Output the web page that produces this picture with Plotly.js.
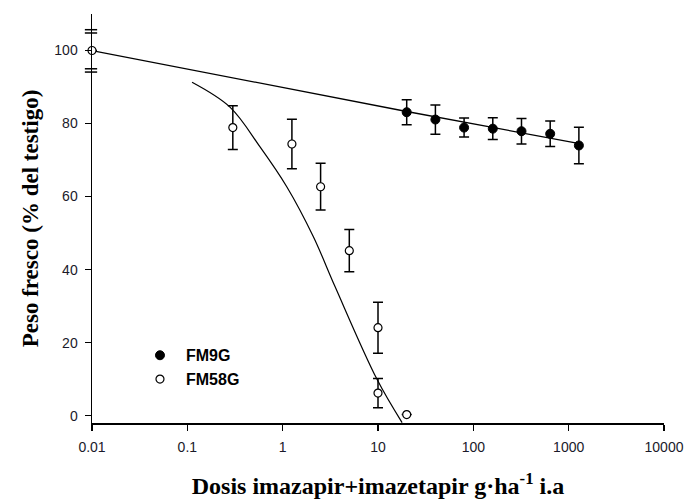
<!DOCTYPE html>
<html>
<head>
<meta charset="utf-8">
<script src="https://cdn.plot.ly/plotly-3.0.1.min.js"></script>
<style>html,body{margin:0;padding:0;background:#fff;}#chart{width:688px;height:502px;}</style>
</head>
<body>
<div id="chart"></div>
<script>
// ---- data ----
const fm9gName = "FM9G";
const fm9gX = [20, 40, 80, 160, 320, 640, 1280];
const fm9gY = [83.1, 81.1, 78.9, 78.6, 77.9, 77.2, 74.0];
const fm9gErr = [3.4, 4.0, 2.6, 3.0, 3.5, 3.5, 5.0];

const fm58gName = "FM58G";
const fm58gX = [0.01, 0.3, 1.25, 2.5, 5, 10, 10, 20];
const fm58gY = [100, 78.9, 74.4, 62.7, 45.2, 24.1, 6.2, 0.3];
const fm58gErr = [null, 6.0, 6.8, 6.4, 5.8, 7.0, 4.0, null];

// fitted curves
const fit9X = [0.01, 20, 1300];
const fit9Y = [100, 83.3, 74.5];
const fit58X = [0.112, 0.28, 0.579, 1.104, 2.10, 3.55, 9.70, 17.9];
const fit58Y = [91.3, 84.5, 73.6, 62.7, 49.0, 35.3, 10.1, -1.9];

const xTickVals = [0.01, 0.1, 1, 10, 100, 1000, 10000];
const xTickText = ["0.01", "0.1", "1", "10", "100", "1000", "10000"];
const yTickVals = [0, 20, 40, 60, 80, 100];
const yTickText = ["0", "20", "40", "60", "80", "100"];
const breakVals = [105.7, 104.8, 95.0, 94.1];

const xTitle = "Dosis imazapir+imazetapir g·ha<sup>-1</sup> i.a";
const yTitle = "Peso fresco (% del testigo)";

const traces = [
  {x: fit9X, y: fit9Y, mode: "lines", line: {color: "#000", width: 1.3}, showlegend: false, hoverinfo: "skip"},
  {x: fit58X, y: fit58Y, mode: "lines", line: {color: "#000", width: 1.2, shape: "spline", smoothing: 1.0}, showlegend: false, hoverinfo: "skip"},
  {x: fm9gX, y: fm9gY, name: fm9gName, mode: "markers",
   marker: {symbol: "circle", size: 9, color: "#000", line: {color: "#000", width: 1}},
   error_y: {type: "data", array: fm9gErr, visible: true, color: "#000", thickness: 1.5, width: 5},
   cliponaxis: false},
  {x: fm58gX, y: fm58gY, name: fm58gName, mode: "markers",
   marker: {symbol: "circle", size: 8, color: "#fff", line: {color: "#000", width: 1.2}},
   error_y: {type: "data", array: fm58gErr, visible: true, color: "#000", thickness: 1.5, width: 5},
   cliponaxis: false}
];

const shapes = breakVals.map(v => ({
  type: "line", xref: "paper", yref: "y", x0: -0.0125, x1: 0.009, y0: v, y1: v,
  line: {color: "#000", width: 1.5}
}));

const tickFont = {family: "Liberation Sans, Arial, sans-serif", size: 14, color: "#1a1a2a"};
const xTitleFont = {family: "Liberation Serif, Times New Roman, serif", size: 24, color: "#000", weight: "bold"};
const yTitleFont = {family: "Liberation Serif, Times New Roman, serif", size: 23, color: "#000", weight: "bold"};

const layout = {
  width: 688, height: 502,
  margin: {l: 92, r: 24, t: 14, b: 79, pad: 0},
  paper_bgcolor: "#fff", plot_bgcolor: "#fff",
  showlegend: true,
  legend: {x: 0.0734, y: 0.207, xanchor: "left", yanchor: "top", bgcolor: "rgba(0,0,0,0)",
    font: {family: "Liberation Sans, Arial, sans-serif", size: 16, color: "#000", weight: "bold"},
    tracegroupgap: 0, itemwidth: 42},
  xaxis: {type: "log", range: [-2, 4], autorange: false,
    tickmode: "array", tickvals: xTickVals, ticktext: xTickText,
    ticks: "outside", ticklen: 6, tickwidth: 1.5, tickcolor: "#000",
    showline: true, linecolor: "#000", linewidth: 1.5, mirror: false,
    showgrid: false, zeroline: false, tickfont: tickFont, ticklabelstandoff: 5,
    title: {text: xTitle, font: xTitleFont, standoff: 23}, automargin: false},
  yaxis: {range: [-2, 110], autorange: false,
    tickmode: "array", tickvals: yTickVals, ticktext: yTickText,
    ticks: "outside", ticklen: 6, tickwidth: 1.5, tickcolor: "#000",
    showline: true, linecolor: "#000", linewidth: 1.5,
    showgrid: false, zeroline: false, tickfont: tickFont, ticklabelstandoff: 4,
    title: {text: yTitle, font: yTitleFont, standoff: 9}, automargin: false},
  shapes: shapes
};

Plotly.newPlot("chart", traces, layout, {displayModeBar: false, staticPlot: true});
</script>
</body>
</html>
